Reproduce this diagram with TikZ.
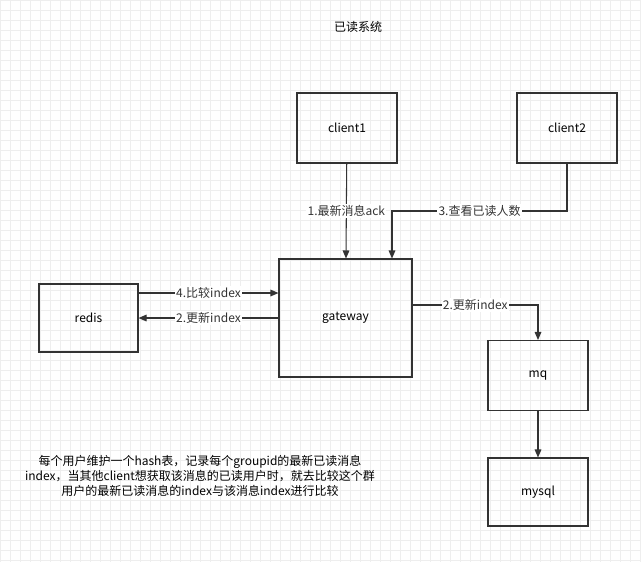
\documentclass[tikz,border=0pt]{standalone}
\usepackage{fontspec}
\setmainfont{Noto Sans CJK SC}
\usetikzlibrary{arrows.meta, positioning}
\definecolor{linegray}{RGB}{51, 51, 51}
\definecolor{gridgray}{RGB}{238, 238, 238}
\tikzset{
  box/.style={draw=linegray, thick, minimum width=100*0.75pt, minimum height=70*0.75pt, font=\small},
  link/.style={-{Triangle[length=6pt, width=5pt]}, thick, linegray},
  tag/.style={fill=white, inner sep=1pt, font=\small}
}
\begin{document}
\begin{tikzpicture}[x=0.75pt, y=-0.75pt]
  \useasboundingbox (0,0) rectangle (641,562);
  % background grid
  \draw[gridgray, step=10*0.75pt] (0,0) grid (641,562);

  \node at (358,27) {\small 已读系统};

  % boxes
  \node[box] (client1) at (347,128) {client1};
  \node[box] (client2) at (567,128) {client2};
  \node[box, minimum width=133*0.75pt, minimum height=118*0.75pt] (gateway) at (345.5,318) {gateway};
  \node[box, minimum width=99*0.75pt, minimum height=68*0.75pt] (redis) at (88.5,318) {redis};
  \node[box] (mq) at (538,375.5) {mq};
  \node[box, minimum height=68*0.75pt] (mysql) at (538,492) {mysql};

  % connectors
  \draw[link] (client1) -- node[tag] {1.最新消息ack} (gateway);
  \coordinate (c2turn) at (567,211);
  \coordinate (gwtop) at (392,211);
  \draw[link] (client2) -- (c2turn) -- node[tag] {3.查看已读人数} (gwtop) -- (gateway.north -| gwtop);
  \draw[link] (redis.east |- 0,293) -- node[tag] {4.比较index} (gateway.west |- 0,293);
  \draw[link] (gateway.west) -- node[tag] {2.更新index} (redis.east);
  \coordinate (mqturn) at (538,305);
  \draw[link] (gateway.east |- mqturn) -- node[tag] {2.更新index} (mqturn) -- (mq);
  \draw[link] (mq) -- (mysql);

  % note
  \node[align=center, font=\small] (note) at (200,476) {每个用户维护一个hash表，记录每个groupid的最新已读消息\\index，当其他client想获取该消息的已读用户时，就去比较这个群\\用户的最新已读消息的index与该消息index进行比较};
\end{tikzpicture}
\end{document}
